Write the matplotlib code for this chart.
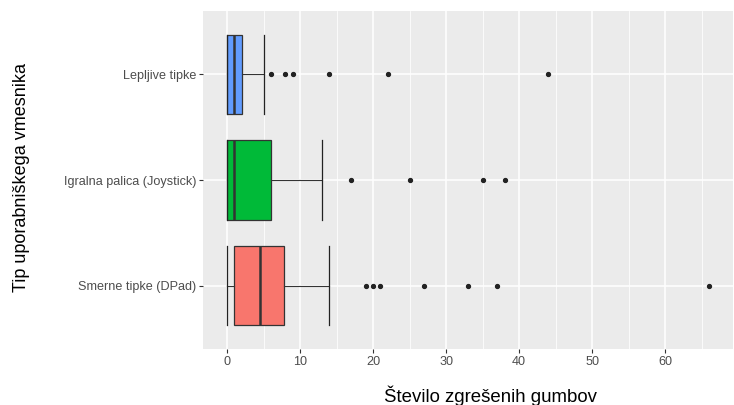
import matplotlib
matplotlib.use("Agg")
import matplotlib.pyplot as plt
from matplotlib.ticker import MultipleLocator

# categories bottom -> top (ggplot puts first level at the bottom)
categories = ["Smerne tipke (DPad)", "Igralna palica (Joystick)", "Lepljive tipke"]
colors = ["#F8766D", "#00BA38", "#619CFF"]

# five-number summaries
whislo = [0, 0, 0]
q1 = [1, 0, 0]
med = [4.5, 1, 1]
q3 = [7.75, 6, 2]
whishi = [14, 13, 5]
fliers = [
    [19, 20, 21, 27, 33, 37, 66],
    [17, 25, 35, 38],
    [6, 8, 9, 14, 22, 44],
]

x_ticks = [0, 10, 20, 30, 40, 50, 60]

plt.rcParams["font.family"] = ["Liberation Sans", "DejaVu Sans"]

fig = plt.figure(figsize=(7.34, 4.05), dpi=100)
ax = fig.add_axes([203 / 734, 1 - 349 / 405, 530 / 734, 338 / 405])
ax.set_facecolor("#EBEBEB")

stats = []
for i, name in enumerate(categories):
    stats.append(
        dict(label=name, whislo=whislo[i], q1=q1[i], med=med[i],
             q3=q3[i], whishi=whishi[i], fliers=fliers[i])
    )

line_col = "#333333"
bp = ax.bxp(
    stats,
    positions=[1, 2, 3],
    vert=False,
    widths=0.75,
    capwidths=0.75,
    patch_artist=True,
    boxprops=dict(edgecolor=line_col, linewidth=0.9),
    whiskerprops=dict(color=line_col, linewidth=0.8),
    capprops=dict(color="#222222", linewidth=0.9),
    medianprops=dict(color=line_col, linewidth=1.8),
    flierprops=dict(marker="o", markersize=2.8, markerfacecolor="#222222",
                    markeredgecolor="#222222", linestyle="none"),
    zorder=3,
)
for patch, c in zip(bp["boxes"], colors):
    patch.set_facecolor(c)

# ggplot-like grid
ax.set_xlim(-3.3, 69.3)
ax.set_ylim(0.4, 3.6)
ax.xaxis.set_major_locator(MultipleLocator(10))
ax.xaxis.set_minor_locator(MultipleLocator(5))
ax.set_xticks(x_ticks)
ax.grid(which="major", color="white", linewidth=1.1, zorder=0)
ax.grid(which="minor", axis="x", color="white", linewidth=0.55, zorder=0)
ax.set_axisbelow(True)
for s in ax.spines.values():
    s.set_visible(False)

ax.set_yticks([1, 2, 3])
ax.set_yticklabels(categories)
ax.tick_params(axis="both", which="major", length=3, width=0.8, color="#333333",
               labelsize=9.1, labelcolor="#4D4D4D", pad=2)
ax.tick_params(axis="both", which="minor", length=0)

ax.set_xlabel("Število zgrešenih gumbov", fontsize=13.4, color="black")
ax.xaxis.set_label_coords(490 / 734, 1 - 402 / 405, transform=fig.transFigure)
ax.xaxis.label.set_verticalalignment("baseline")

ax.set_ylabel("Tip uporabniškega vmesnika", fontsize=13, color="black")
ax.yaxis.set_label_coords(22 / 734, 1 - 177 / 405, transform=fig.transFigure)
ax.yaxis.label.set_verticalalignment("center")

fig.savefig("out.png", dpi=100)
